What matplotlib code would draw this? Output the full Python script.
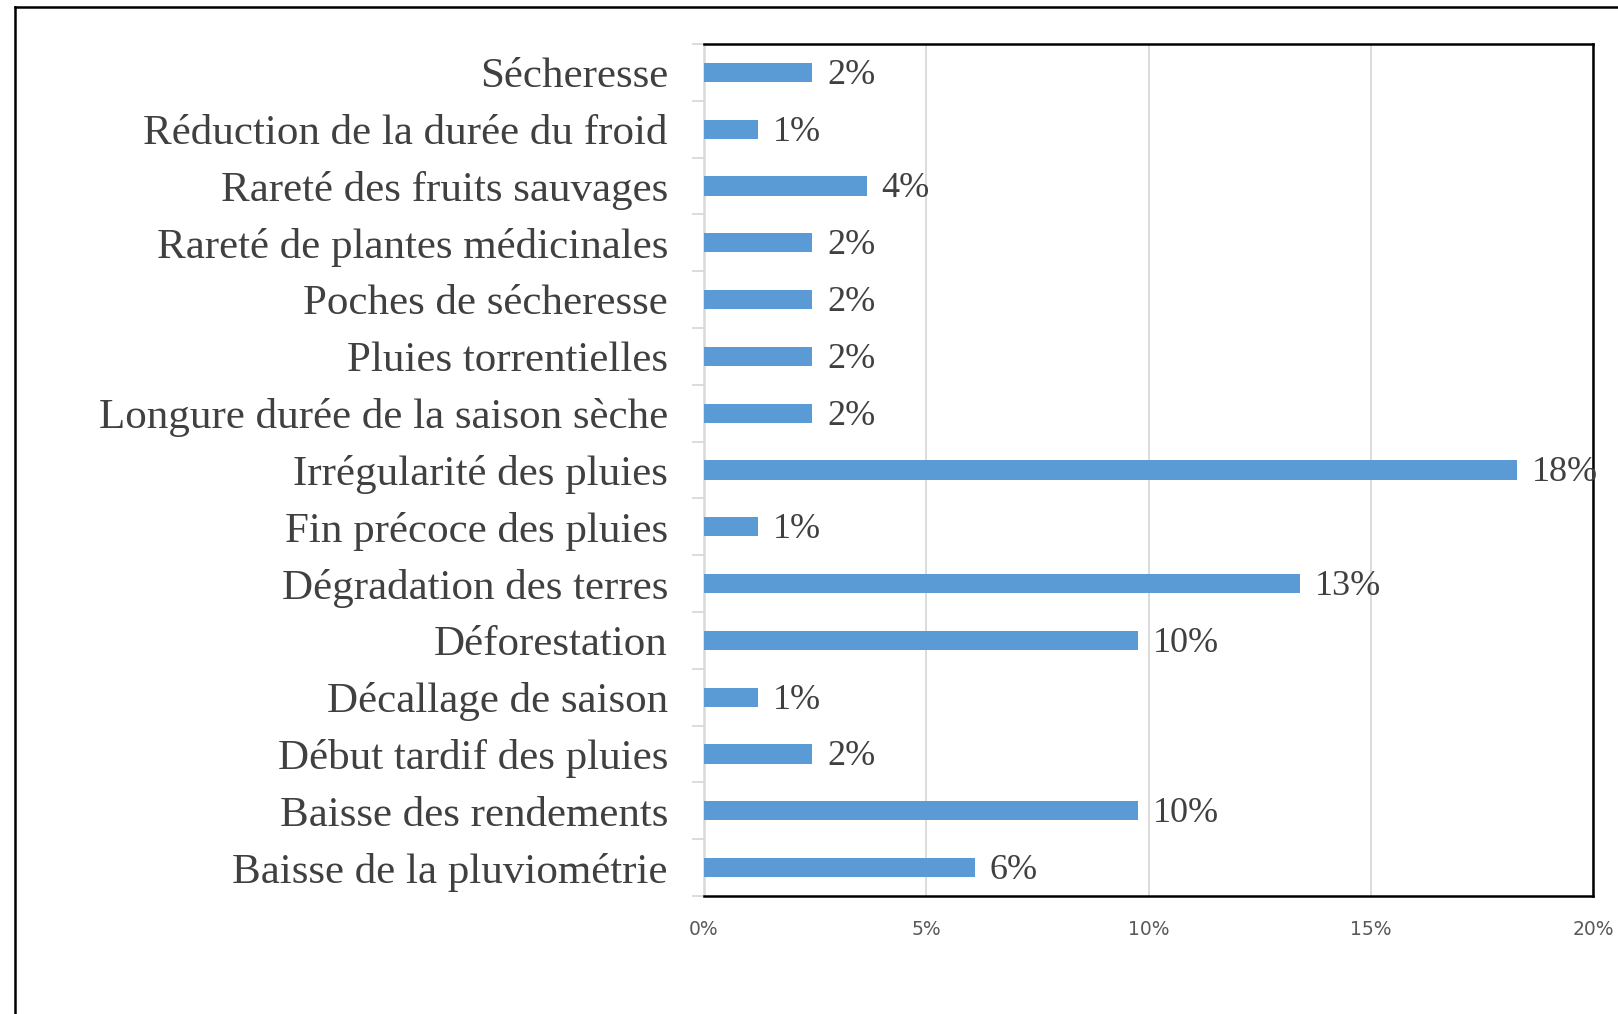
import matplotlib.pyplot as plt
import numpy as np
from matplotlib.lines import Line2D
from matplotlib.ticker import FixedLocator

# categories, top to bottom
categories = [
    "Sécheresse",
    "Réduction de la durée du froid",
    "Rareté des fruits sauvages",
    "Rareté de plantes médicinales",
    "Poches de sécheresse",
    "Pluies torrentielles",
    "Longure durée de la saison sèche",
    "Irrégularité des pluies",
    "Fin précoce des pluies",
    "Dégradation des terres",
    "Déforestation",
    "Décallage de saison",
    "Début tardif des pluies",
    "Baisse des rendements",
    "Baisse de la pluviométrie",
]
values = [2.44, 1.22, 3.66, 2.44, 2.44, 2.44, 2.44, 18.29, 1.22, 13.41, 9.76, 1.22, 2.44, 9.76, 6.10]
x_ticks = [0, 5, 10, 15, 20]

fig = plt.figure(figsize=(16.18, 10.14), dpi=100)
ax = fig.add_axes([704/1618, 1 - 896/1014, (1593 - 704)/1618, (896 - 44)/1014])

y = np.arange(len(categories))
ax.barh(y, values, height=0.34, color="#5B9BD5", zorder=3)
for yi, v in zip(y, values):
    ax.text(v + 0.33, yi + 0.05, f"{v:.0f}%", va="center", ha="left",
            fontsize=26, family="Liberation Serif", color="#404040", zorder=4)

ax.set_ylim(len(categories) - 0.5, -0.5)
ax.set_xlim(0, 20)
ax.set_yticks(y)
ax.set_yticklabels(categories, fontsize=31, family="Liberation Serif", color="#404040")
for lab in ax.get_yticklabels():
    lab.set_va("center_baseline")
ax.yaxis.set_minor_locator(FixedLocator(np.arange(-0.5, len(categories), 1)))
ax.tick_params(axis="y", which="major", length=0, pad=26)
ax.tick_params(axis="y", which="minor", length=9, color="#d9d9d9", width=1.3)

ax.set_xticks(x_ticks)
ax.set_xticklabels([f"{t}%" for t in x_ticks], fontsize=13.5,
                   family=["Liberation Sans Narrow", "DejaVu Sans"], color="#595959")
ax.tick_params(axis="x", length=0, pad=17)
ax.grid(axis="x", color="#d9d9d9", linewidth=1.3, zorder=0)

for s in ["top", "right", "bottom"]:
    ax.spines[s].set_color("black")
    ax.spines[s].set_linewidth(1.8)
ax.spines["left"].set_color("#d9d9d9")
ax.spines["left"].set_linewidth(1.8)

# outer frame (cropped at right and bottom)
fx = 14.5 / 1618
fy = 1 - 6.5 / 1014
fig.add_artist(Line2D([fx, fx], [0, fy], transform=fig.transFigure, color="black", lw=1.8))
fig.add_artist(Line2D([fx, 1], [fy, fy], transform=fig.transFigure, color="black", lw=1.8))

fig.savefig("out.png", dpi=100)
